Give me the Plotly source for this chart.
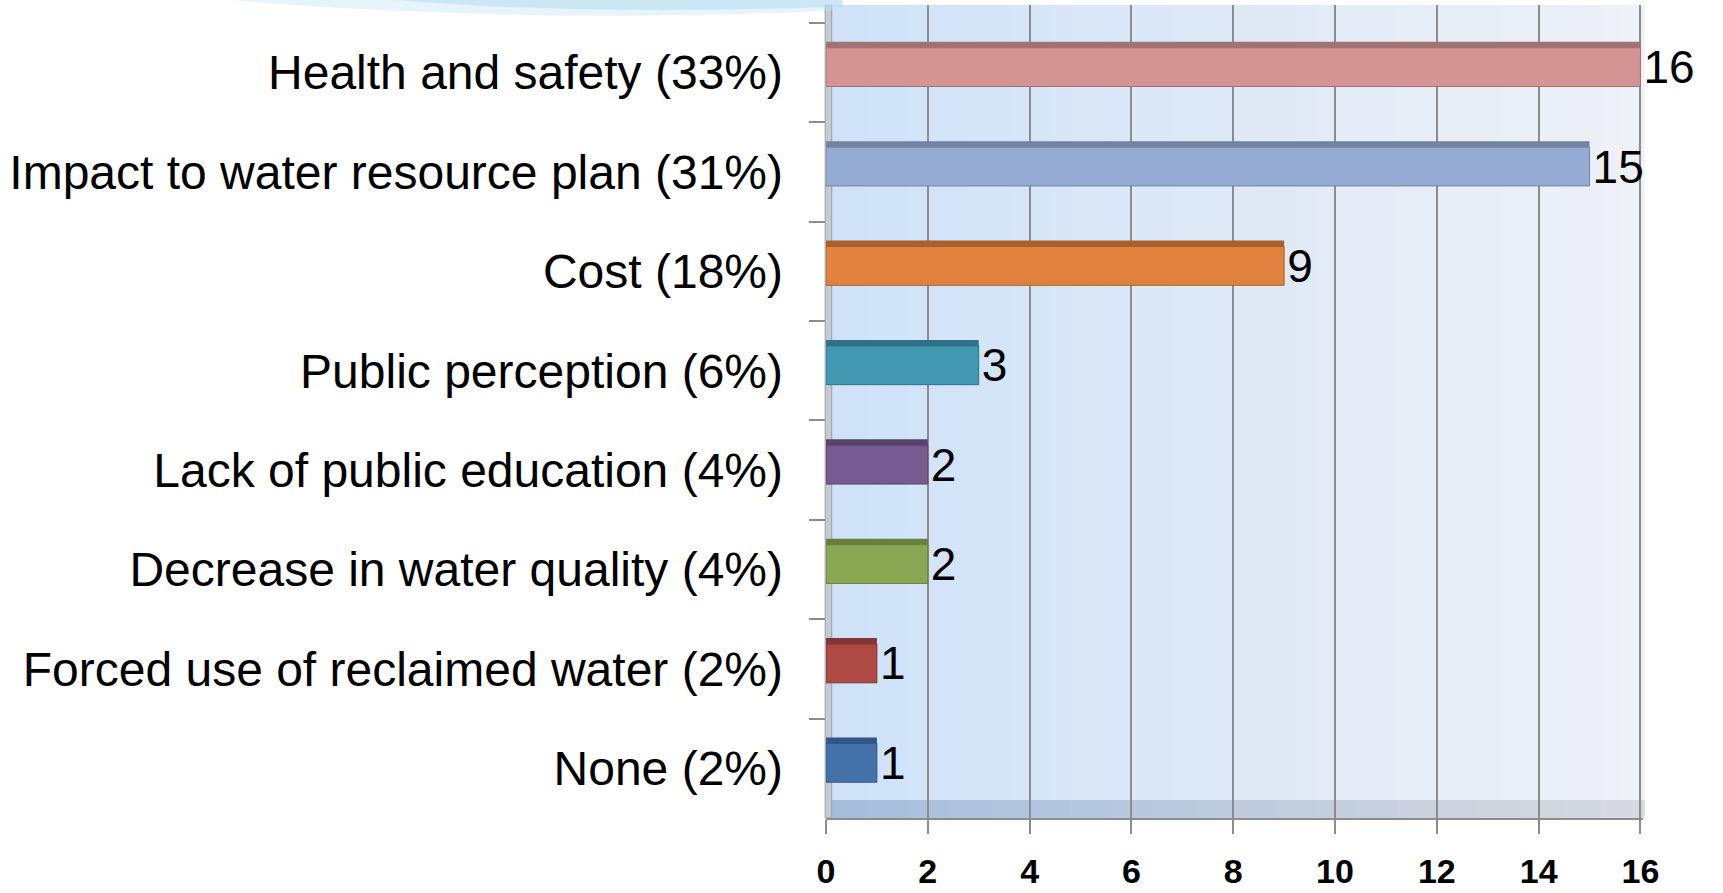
import plotly.graph_objects as go

categories = [
    "Health and safety (33%)",
    "Impact to water resource plan (31%)",
    "Cost (18%)",
    "Public perception (6%)",
    "Lack of public education (4%)",
    "Decrease in water quality (4%)",
    "Forced use of reclaimed water (2%)",
    "None (2%)",
]
values = [16, 15, 9, 3, 2, 2, 1, 1]
front_colors = ["#d59494", "#96abd3", "#e0823d", "#4398b1", "#765a90", "#8aa854", "#ae4a44", "#4472a8"]
top_colors = ["#a07272", "#72829f", "#a8612d", "#307285", "#58436c", "#67803e", "#833733", "#335686"]
x_ticks = [0, 2, 4, 6, 8, 10, 12, 14, 16]

fig = go.Figure()

# top face (3D look)
fig.add_trace(go.Bar(
    y=categories, x=values, orientation="h",
    marker=dict(color=top_colors, line=dict(width=0)),
    offset=-0.31, width=0.12, hoverinfo="skip", showlegend=False,
))
# front face
fig.add_trace(go.Bar(
    y=categories, x=values, orientation="h",
    marker=dict(color=front_colors, line=dict(color=top_colors, width=1)),
    offset=-0.25, width=0.39,
    text=[str(v) for v in values], textposition="outside", constraintext="none",
    textfont=dict(family="Liberation Sans, Arial", size=46, color="#000000"),
    cliponaxis=False, showlegend=False,
))

shapes = []
# gradient background of plot area
n = 40
c0 = (0xCF, 0xE2, 0xF8)
c1 = (0xEE, 0xF1, 0xF6)
for i in range(n):
    t = i / (n - 1)
    col = tuple(round(c0[k] + (c1[k] - c0[k]) * t) for k in range(3))
    shapes.append(dict(type="rect", xref="x domain", yref="y domain",
                       x0=i / n, x1=(i + 1) / n + 0.002, y0=0, y1=1,
                       fillcolor="rgb(%d,%d,%d)" % col, line=dict(width=0), layer="below"))
# floor band
m = 20
f0 = (0xA6, 0xBE, 0xDD)
f1 = (0xD6, 0xD9, 0xDF)
for i in range(m):
    t = i / (m - 1)
    col = tuple(round(f0[k] + (f1[k] - f0[k]) * t) for k in range(3))
    shapes.append(dict(type="rect", xref="x domain", yref="y domain",
                       x0=i / m, x1=(i + 1) / m + 0.002, y0=0, y1=0.022,
                       fillcolor="rgb(%d,%d,%d)" % col, line=dict(width=0), layer="below"))
# left wall
shapes.append(dict(type="rect", xref="x domain", yref="y domain",
                   x0=-0.001, x1=0.007, y0=0, y1=1.0,
                   fillcolor="#c6cbd2", line=dict(color="#9a9ea4", width=1), layer="below"))
# top decoration swoosh (outside plot, upper left), soft layers
shapes.append(dict(type="path", xref="paper", yref="paper",
                   path="M -0.75 1.008 L 0.02 1.008 L 0.02 0.994 Q -0.2 0.982 -0.45 0.99 Q -0.62 0.996 -0.75 1.008 Z",
                   fillcolor="rgba(200,230,246,0.45)", line=dict(width=0), layer="below"))
shapes.append(dict(type="path", xref="paper", yref="paper",
                   path="M -0.55 1.008 L 0.02 1.008 L 0.02 0.998 Q -0.2 0.99 -0.4 0.998 Q -0.48 1.002 -0.55 1.008 Z",
                   fillcolor="rgba(170,215,240,0.45)", line=dict(width=0), layer="below"))

fig.update_layout(
    width=1723, height=893,
    paper_bgcolor="#ffffff", plot_bgcolor="#dde9f8",
    margin=dict(l=826, r=80, t=5, b=75),
    barmode="overlay",
    shapes=shapes,
    font=dict(family="Liberation Sans, Arial", color="#000000"),
    xaxis=dict(
        range=[0, 16.05], tickvals=x_ticks, ticktext=[str(v) for v in x_ticks],
        showgrid=True, gridcolor="#8c8c8c", gridwidth=2,
        ticks="outside", ticklen=14, tickcolor="#8c8c8c", tickwidth=2,
        showline=True, linecolor="#8c8c8c", linewidth=2,
        tickfont=dict(family="Liberation Sans, Arial", size=34, color="#000000", weight="bold"),
        ticklabelstandoff=8, zeroline=False, automargin=False,
    ),
    yaxis=dict(
        categoryorder="array", categoryarray=categories, range=[7.5, -0.68],
        tickson="boundaries", ticks="outside", ticklen=16, tickcolor="#8c8c8c", tickwidth=2,
        showgrid=False, showline=False,
        tickfont=dict(family="Liberation Sans, Arial", size=48, color="#000000"),
        ticklabelstandoff=42, automargin=False,
    ),
)

fig.write_html("out.html", config={"displayModeBar": False},
               post_script="document.body.style.margin='0px';document.body.style.overflow='hidden';")
